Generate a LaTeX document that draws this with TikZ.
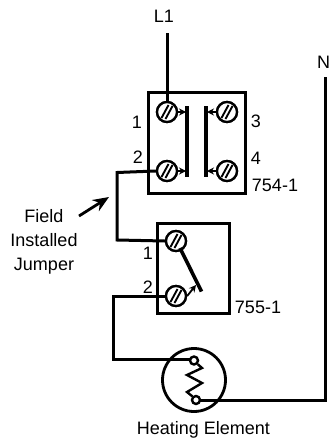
\documentclass[tikz,border=0pt]{standalone}
\usepackage{fontspec}
\setmainfont{Liberation Sans}
\usetikzlibrary{arrows.meta,calc}
\tikzset{
  wire/.style={line width=3pt,line join=miter},
  screw/.style={circle,draw=black,fill=white,line width=2.3pt,minimum size=20pt,inner sep=0pt},
  lbl/.style={font=\fontsize{18pt}{24pt}\selectfont,inner sep=0pt},
  bar/.style={line width=4pt},
  slot/.style={line width=1.9pt},
  tiparrow/.style={line width=1.8pt,-{Stealth[length=7pt,width=7pt]}},
  term/.style={circle,draw=black,fill=white,line width=2.4pt,minimum size=8pt,inner sep=0pt}
}
\begin{document}
\begin{tikzpicture}[x=1pt,y=-1pt]
\useasboundingbox (0,0) rectangle (331,442);
\fill[white] (0,0) rectangle (331,442);
\draw[line width=3pt] (148.5,92) rectangle (245,193);
\draw[line width=3pt] (157,223) rectangle (229,313);
\node[lbl] (L1) at (164,16) {L1};
\node[lbl] (N) at (323.5,62) {N};
\node[screw] (s1) at (167,112) {};
\node[screw] (s2) at (167,171) {};
\node[screw] (s3) at (227,112) {};
\node[screw] (s4) at (227,171) {};
\node[screw] (s5) at (176,241) {};
\node[screw] (s6) at (176,296) {};
\coordinate (c0) at (167,33);
\coordinate (c1) at (117,172.5);
\coordinate (c2) at (117,240);
\coordinate (c3) at (113,296);
\coordinate (c4) at (113,359);
\coordinate (c5) at (325.5,400);
\coordinate (c6) at (325.5,77);
\node[circle,draw=black,line width=2.8pt,minimum size=63pt,inner sep=0pt] (heat) at (194,380) {};
\draw[wire] (c0) -- (s1.center);
\draw[wire] (s2.west) -- (c1) -- (c2) -- (s5.west);
\draw[wire] (s6.west) -- (c3) -- (c4) -- (194,359);
\draw[wire] (196,400) -- (c5) -- (c6);
\node[term] (t1) at (194,360.5) {};
\node[term] (t2) at (196,400) {};
\draw[line width=2.4pt,line join=miter] (t1.south east) -- (202,368) -- (187,375) -- (202,383) -- (187,392) -- (t2.north west);
\foreach \s in {s1,s2,s3,s4,s5,s6}{
  \node[screw] at (\s) {};
  \draw[slot] ($(\s)+(-5.5,6)$) -- ($(\s)+(1.5,-7)$);
  \draw[slot] ($(\s)+(-1.5,7)$) -- ($(\s)+(5.5,-6)$);
}
\draw[bar] (187,106) -- (187,177);
\draw[bar] (206,106) -- (206,177);
\draw[tiparrow] (s1.east) -- (186,112);
\draw[tiparrow] (s2.east) -- (186,171);
\draw[tiparrow] (s3.west) -- (207,112);
\draw[tiparrow] (s4.west) -- (207,171);
\draw[line width=3.6pt] (180,248) -- (201.5,291.5);
\draw[tiparrow] (s6.east) -- (196,285);
\coordinate (a1) at (79,216);
\coordinate (a2) at (109,197);
\draw[line width=2.8pt,-{Stealth[length=16pt,width=13pt]}] (a1) -- (a2);
\node[lbl] (n1) at (137,122) {1};
\node[lbl] (n2) at (138,157) {2};
\node[lbl] (n3) at (256,121) {3};
\node[lbl] (n4) at (256,158) {4};
\node[lbl] (r1) at (275,185) {754-1};
\node[lbl] (n5) at (148,253) {1};
\node[lbl] (n6) at (148,287) {2};
\node[lbl] (r2) at (258,307) {755-1};
\node[lbl,align=center] (j) at (44,242) {Field\\Installed\\Jumper};
\node[lbl] (h) at (203.5,430) {Heating Element};
\end{tikzpicture}
\end{document}
